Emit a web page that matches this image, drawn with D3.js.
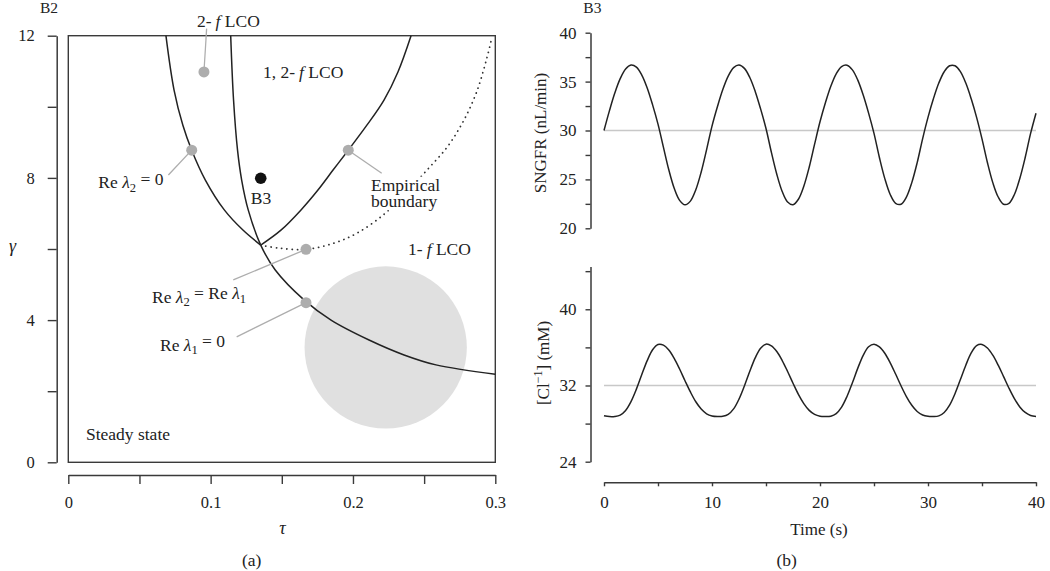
<!DOCTYPE html>
<html><head><meta charset="utf-8">
<script src="https://cdn.jsdelivr.net/npm/d3@7"></script>
<style>
body{margin:0;background:#fff;}
svg{display:block;font-family:"Liberation Serif","DejaVu Serif",serif;}
</style></head><body>
<svg id="c" width="1050" height="571"></svg>
<script>
// ---------- Panel (a): bifurcation diagram (tau, gamma) ----------
const tauTicks = [0, 0.05, 0.1, 0.15, 0.2, 0.25, 0.3];
const tauTickLabels = ["0", "", "0.1", "", "0.2", "", "0.3"];
const gammaTicks = [0, 2, 4, 6, 8, 10, 12];
const gammaTickLabels = ["0", "", "4", "", "8", "", "12"];

// Re lambda2 = 0 (left branch, ends at junction)
const curveReL2 = [[0.0686,12],[0.0743,10.47],[0.0805,9.48],[0.0867,8.78],[0.0963,7.94],[0.1096,7.10],[0.1225,6.54],[0.1352,6.11]];
// Re lambda1 = 0 (crosses whole panel)
const curveReL1 = [[0.1141,12],[0.1161,10.19],[0.1189,8.78],[0.1218,7.94],[0.1264,7.10],[0.1352,6.11],[0.1454,5.41],[0.1656,4.57],[0.1846,4.00],[0.2113,3.44],[0.2359,3.02],[0.2583,2.74],[0.3,2.48]];
// Re lambda2 = Re lambda1 (right branch from junction)
const curveEqual = [[0.1352,6.11],[0.1494,6.53],[0.1635,7.10],[0.1754,7.66],[0.1860,8.22],[0.1967,8.78],[0.2099,9.49],[0.2218,10.19],[0.2316,10.98],[0.2408,12]];
// Empirical boundary (dotted)
const curveEmpirical = [[0.1352,6.11],[0.1487,6.02],[0.1670,5.99],[0.1862,6.16],[0.2026,6.44],[0.2213,6.96],[0.2366,7.55],[0.2520,8.22],[0.2668,8.90],[0.2780,9.63],[0.2869,10.42],[0.2940,11.36],[0.2975,11.93]];
// grey marker points and where their leader lines end
const greyPoints = [[0.0953,10.98],[0.0867,8.78],[0.1967,8.78],[0.1670,5.99],[0.1670,4.49]];
const leaderEnds = [[0.0972,12.2],[0.0703,8.08],[0.2202,8.13],[0.1159,5.13],[0.1183,3.53]];
const blackPoint = [0.1352, 7.99];
const shadedCircle = {tau: 0.223, gamma: 3.23, rTau: 0.057};

// ---------- Panel (b): time series ----------
const time = [0,0.5,1,1.5,2,2.5,3,3.5,4,4.5,5,5.5,6,6.5,7,7.5,8,8.5,9,9.5,
10,10.5,11,11.5,12,12.5,13,13.5,14,14.5,15,15.5,16,16.5,17,17.5,18,18.5,19,19.5,
20,20.5,21,21.5,22,22.5,23,23.5,24,24.5,25,25.5,26,26.5,27,27.5,28,28.5,29,29.5,
30,30.5,31,31.5,32,32.5,33,33.5,34,34.5,35,35.5,36,36.5,37,37.5,38,38.5,39,39.5,40];
const sngfr = [30.00,32.01,33.83,35.30,36.29,36.69,36.48,35.67,34.35,32.62,30.65,28.30,25.98,24.09,22.86,22.40,22.78,23.94,25.76,28.05,
30.45,32.43,34.19,35.56,36.43,36.70,36.35,35.42,34.00,32.21,30.20,27.76,25.52,23.76,22.69,22.41,22.97,24.30,26.24,28.60,
30.89,32.84,34.53,35.80,36.54,36.68,36.20,35.15,33.63,31.78,29.70,27.24,25.08,23.46,22.56,22.46,23.19,24.67,26.72,29.15,
31.34,33.24,34.85,36.01,36.62,36.62,36.02,34.85,33.24,31.34,29.14,26.73,24.67,23.20,22.46,22.56,23.46,25.09,27.24,29.70,31.77];
const chloride = [28.83,28.74,28.75,28.89,29.38,30.31,31.62,33.15,34.61,35.75,36.30,36.24,35.73,34.85,33.73,32.50,31.32,30.29,29.53,29.03,
28.80,28.74,28.76,28.96,29.54,30.57,31.95,33.49,34.90,35.92,36.34,36.16,35.56,34.62,33.47,32.24,31.07,30.10,29.39,28.96,
28.77,28.74,28.78,29.05,29.73,30.85,32.28,33.82,35.17,36.07,36.34,36.06,35.38,34.38,33.20,31.97,30.84,29.92,29.27,28.90,
28.76,28.74,28.81,29.17,29.94,31.14,32.62,34.13,35.42,36.19,36.31,35.94,35.18,34.13,32.93,31.71,30.62,29.75,29.17,28.85,28.75];
const sngfrRef = 30;
const chlorideRef = 32;
const timeTicks = [0,5,10,15,20,25,30,35,40];
const timeTickLabels = ["0","","10","","20","","30","","40"];
const sngfrTicks = [20,22.5,25,27.5,30,32.5,35,37.5,40];
const sngfrTickLabels = ["20","","25","","30","","35","","40"];
const clTicks = [24,28,32,36,40,44];
const clTickLabels = ["24","","32","","40",""];

// ---------- drawing ----------
const svg = d3.select("#c");
const INK = "#222", AX = "#3a3a3a", GREY = "#adadad";
const FS_T = 16.5, FS_L = 17.5, FS_R = 17;

function styleAxis(g, fs) {
  g.attr("font-family", null).attr("font-size", fs);
  g.selectAll("path.domain").attr("stroke", AX).attr("stroke-width", 1.5);
  g.selectAll(".tick line").attr("stroke", AX).attr("stroke-width", 1.4);
  g.selectAll(".tick text").attr("fill", "#222");
}

// Panel (a)
const x1 = d3.scaleLinear().domain([0, 0.3]).range([68.3, 495.3]);
const y1 = d3.scaleLinear().domain([0, 12]).range([462.3, 35.7]);
const A = svg.append("g");

A.append("circle")
  .attr("cx", x1(shadedCircle.tau)).attr("cy", y1(shadedCircle.gamma))
  .attr("r", x1(shadedCircle.tau + shadedCircle.rTau) - x1(shadedCircle.tau))
  .attr("fill", "#e0e0e0");

A.append("rect").attr("x", x1(0)).attr("y", y1(12))
  .attr("width", x1(0.3) - x1(0)).attr("height", y1(0) - y1(12))
  .attr("fill", "none").attr("stroke", AX).attr("stroke-width", 1.4);

const yAx = A.append("g").attr("transform", "translate(56.7,0)")
  .call(d3.axisLeft(y1).tickValues(gammaTicks).tickFormat((d, i) => gammaTickLabels[i]).tickSize(9).tickSizeOuter(0).tickPadding(13));
styleAxis(yAx, FS_T);
const xAx = A.append("g").attr("transform", "translate(0,475)")
  .call(d3.axisBottom(x1).tickValues(tauTicks).tickFormat((d, i) => tauTickLabels[i]).tickSize(9).tickSizeOuter(0));
styleAxis(xAx, FS_T);
xAx.selectAll(".tick text").attr("y", 33).attr("dy", 0);

const line1 = d3.line().x(d => x1(d[0])).y(d => y1(d[1])).curve(d3.curveCatmullRom.alpha(0.5));
[curveReL2, curveReL1, curveEqual].forEach(c => {
  A.append("path").attr("d", line1(c)).attr("fill", "none").attr("stroke", INK).attr("stroke-width", 1.5);
});
A.append("path").attr("d", line1(curveEmpirical)).attr("fill", "none").attr("stroke", "#333")
  .attr("stroke-width", 1.8).attr("stroke-linecap", "round").attr("stroke-dasharray", "0.1,5.2");

function label(g, tau, gamma, parts, fs) {
  const t = g.append("text").attr("x", x1(tau)).attr("y", y1(gamma)).attr("font-size", fs).attr("fill", "#222");
  parts.forEach(p => {
    const s = t.append("tspan").text(p.t);
    if (p.i) s.attr("font-style", "italic");
    if (p.sub) s.attr("font-size", fs * 0.72).attr("dy", "0.28em");
    if (p.back) s.attr("dy", "-0.39em");
    if (p.dx) s.attr("dx", p.dx);
  });
  return t;
}
// Empirical boundary label (two lines in one text) with white backing that hides the dotted curve
const empG = A.append("g");
const emp = empG.append("text").attr("x", x1(0.2127)).attr("y", y1(7.64)).attr("font-size", FS_L).attr("fill", "#222");
emp.append("tspan").attr("x", x1(0.2127)).text("Empirical");
emp.append("tspan").attr("x", x1(0.2127)).attr("dy", 16.5).text("boundary");
const bb = emp.node().getBBox();
empG.insert("rect", "text").attr("x", bb.x - 1).attr("y", bb.y + 2)
  .attr("width", bb.width + 2).attr("height", bb.height - 3).attr("fill", "#fff");

// leaders + points
greyPoints.forEach((p, i) => {
  A.append("line").attr("x1", x1(p[0])).attr("y1", y1(p[1]))
    .attr("x2", x1(leaderEnds[i][0])).attr("y2", y1(leaderEnds[i][1]))
    .attr("stroke", GREY).attr("stroke-width", 1.3);
});
A.selectAll("circle.gp").data(greyPoints).join("circle").attr("class", "gp")
  .attr("cx", d => x1(d[0])).attr("cy", d => y1(d[1])).attr("r", 5.5).attr("fill", GREY);
A.append("circle").attr("cx", x1(blackPoint[0])).attr("cy", y1(blackPoint[1])).attr("r", 5.8).attr("fill", "#111");

label(A, 0.0904, 12.24, [{t: "2-"}, {t: "f", i: 1, dx: 4}, {t: " LCO"}], FS_L);
label(A, 0.1368, 10.81, [{t: "1, 2-"}, {t: "f", i: 1, dx: 4}, {t: " LCO"}], FS_L);
label(A, 0.0211, 7.71, [{t: "Re "}, {t: "λ", i: 1}, {t: "2", sub: 1}, {t: " = 0", back: 1}], FS_L);
label(A, 0.1282, 7.27, [{t: "B3"}], FS_L);
label(A, 0.2387, 5.83, [{t: "1-"}, {t: "f", i: 1, dx: 4}, {t: " LCO"}], FS_L);
label(A, 0.0588, 4.49, [{t: "Re "}, {t: "λ", i: 1}, {t: "2", sub: 1}, {t: " = Re ", back: 1}, {t: "λ", i: 1}, {t: "1", sub: 1}], FS_L);
label(A, 0.0644, 3.14, [{t: "Re "}, {t: "λ", i: 1}, {t: "1", sub: 1}, {t: " = 0", back: 1}], FS_L);
label(A, 0.0124, 0.63, [{t: "Steady state"}], FS_L);

svg.append("text").attr("x", 40).attr("y", 12.5).attr("font-size", 15.5).attr("fill", "#222").text("B2");
svg.append("text").attr("x", 12.5).attr("y", 252).attr("text-anchor", "middle").attr("font-size", 18).attr("font-style", "italic").attr("fill", "#222").text("γ");
svg.append("text").attr("x", 282.5).attr("y", 534).attr("text-anchor", "middle").attr("font-size", 18).attr("font-style", "italic").attr("fill", "#222").text("τ");
svg.append("text").attr("x", 251.7).attr("y", 566).attr("text-anchor", "middle").attr("font-size", 17.5).attr("fill", "#222").text("(a)");

// Panel (b)
const xt = d3.scaleLinear().domain([0, 40]).range([604, 1036]);
const yTop = d3.scaleLinear().domain([20, 40]).range([228.3, 32.7]);
const yBot = d3.scaleLinear().domain([24, 44.5]).range([461.7, 266.4]);
const B = svg.append("g");

const ta = B.append("g").attr("transform", "translate(590.5,0)")
  .call(d3.axisLeft(yTop).tickValues(sngfrTicks).tickFormat((d, i) => sngfrTickLabels[i]).tickSize(5).tickSizeOuter(0).tickPadding(9));
styleAxis(ta, FS_R);
const ba = B.append("g").attr("transform", "translate(590.5,0)")
  .call(d3.axisLeft(yBot).tickValues(clTicks).tickFormat((d, i) => clTickLabels[i]).tickSize(5).tickSizeOuter(0).tickPadding(9));
styleAxis(ba, FS_R);
const xa = B.append("g").attr("transform", "translate(0,482.3)")
  .call(d3.axisBottom(xt).tickValues(timeTicks).tickFormat((d, i) => timeTickLabels[i]).tickSize(4).tickSizeOuter(0));
styleAxis(xa, FS_R);
xa.selectAll(".tick text").attr("y", 26).attr("dy", 0);

B.append("line").attr("x1", xt(0)).attr("x2", xt(40)).attr("y1", yTop(sngfrRef)).attr("y2", yTop(sngfrRef))
  .attr("stroke", "#c8c8c8").attr("stroke-width", 1.5);
B.append("line").attr("x1", xt(0)).attr("x2", xt(40)).attr("y1", yBot(chlorideRef)).attr("y2", yBot(chlorideRef))
  .attr("stroke", "#c8c8c8").attr("stroke-width", 1.5);

const lTop = d3.line().x((d, i) => xt(time[i])).y(d => yTop(d)).curve(d3.curveCatmullRom.alpha(0.5));
const lBot = d3.line().x((d, i) => xt(time[i])).y(d => yBot(d)).curve(d3.curveCatmullRom.alpha(0.5));
B.append("path").attr("d", lTop(sngfr)).attr("fill", "none").attr("stroke", INK).attr("stroke-width", 1.5);
B.append("path").attr("d", lBot(chloride)).attr("fill", "none").attr("stroke", INK).attr("stroke-width", 1.5);

svg.append("text").attr("x", 583.3).attr("y", 12.5).attr("font-size", 15.5).attr("fill", "#222").text("B3");
svg.append("text").attr("transform", "translate(546,133) rotate(-90)").attr("text-anchor", "middle")
  .attr("font-size", FS_R).attr("fill", "#222").text("SNGFR  (nL/min)");
const cl = svg.append("text").attr("transform", "translate(549,363) rotate(-90)").attr("text-anchor", "middle")
  .attr("font-size", FS_R).attr("fill", "#222");
cl.append("tspan").text("[Cl");
cl.append("tspan").attr("font-size", 12).attr("dy", "-0.6em").text("−1");
cl.append("tspan").attr("dy", "0.42em").text("] (mM)");
svg.append("text").attr("x", 819).attr("y", 535).attr("text-anchor", "middle").attr("font-size", FS_R).attr("fill", "#222").text("Time (s)");
svg.append("text").attr("x", 786.7).attr("y", 566).attr("text-anchor", "middle").attr("font-size", 17.5).attr("fill", "#222").text("(b)");
</script>
</body></html>
